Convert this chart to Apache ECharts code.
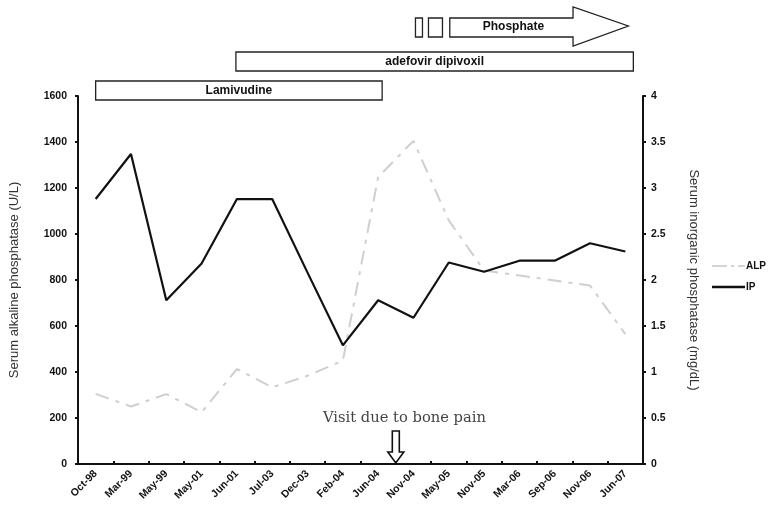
<!DOCTYPE html>
<html><head><meta charset="utf-8">
<script src="https://cdn.jsdelivr.net/npm/echarts@6/dist/echarts.min.js"></script>
<style>html,body{margin:0;padding:0;background:#fff}#c{width:770px;height:518px}</style>
</head><body><div id="c"></div>
<script>
var categories = ['Oct-98','Mar-99','May-99','May-01','Jun-01','Jul-03','Dec-03','Feb-04','Jun-04','Nov-04','May-05','Nov-05','Mar-06','Sep-06','Nov-06','Jun-07'];
var alpValues = [305, 250, 304, 225, 413, 333, 384, 449, 1248, 1405, 1059, 841, 820, 798, 776, 565];
var ipValues = [2.88, 3.37, 1.78, 2.18, 2.88, 2.88, 2.08, 1.29, 1.78, 1.59, 2.19, 2.09, 2.21, 2.21, 2.40, 2.31];
var leftTicks = {min: 0, max: 1600, interval: 200};
var rightTicks = {min: 0, max: 4, interval: 0.5};

var chart = echarts.init(document.getElementById('c'), null, {renderer: 'canvas'});
var tickFont = {fontFamily: 'Liberation Sans, Arial, sans-serif', fontWeight: 'bold', fontSize: 10.5, color: '#111'};
var option = {
  animation: false,
  backgroundColor: '#fff',
  grid: {left: 75, right: 127, top: 96, bottom: 54, containLabel: false},
  legend: {
    orient: 'vertical', left: 707, top: 256, itemWidth: 33, itemHeight: 10, itemGap: 11,
    textStyle: {fontFamily: 'Liberation Sans, Arial, sans-serif', fontWeight: 'bold', fontSize: 10, color: '#111', padding: [0,0,0,-4]},
    data: [
      {name: 'ALP', icon: 'path://M0,4 L15,4 L15,6 L0,6 Z M19,4 L22,4 L22,6 L19,6 Z M26,4 L33,4 L33,6 L26,6 Z', itemStyle: {color: '#d4d4d4'}},
      {name: 'IP', icon: 'path://M0,4 L33,4 L33,6.5 L0,6.5 Z', itemStyle: {color: '#111'}}
    ]
  },
  xAxis: {
    type: 'category', data: categories, boundaryGap: true,
    axisLine: {lineStyle: {color: '#111', width: 2}},
    axisTick: {show: true, inside: true, length: 3, lineStyle: {color: '#111', width: 2}},
    axisLabel: Object.assign({rotate: 45, interval: 0, margin: 8}, tickFont)
  },
  yAxis: [
    {
      type: 'value', min: leftTicks.min, max: leftTicks.max, interval: leftTicks.interval, position: 'left',
      name: 'Serum alkaline phosphatase (U/L)', nameLocation: 'middle', nameGap: 57, nameRotate: 90,
      nameTextStyle: {fontFamily: 'Liberation Sans, Arial, sans-serif', fontSize: 13, color: '#333'},
      axisLine: {show: true, lineStyle: {color: '#111', width: 2}},
      axisTick: {show: true, length: 3, lineStyle: {color: '#111', width: 2}},
      axisLabel: Object.assign({margin: 11, formatter: function (v) { return String(v); }}, tickFont),
      splitLine: {show: false}
    },
    {
      type: 'value', min: rightTicks.min, max: rightTicks.max, interval: rightTicks.interval, position: 'right',
      name: 'Serum inorganic phosphatase (mg/dL)', nameLocation: 'middle', nameGap: 44, nameRotate: -90,
      nameTextStyle: {fontFamily: 'Liberation Sans, Arial, sans-serif', fontSize: 13, color: '#333'},
      axisLine: {show: true, lineStyle: {color: '#111', width: 2}},
      axisTick: {show: true, length: 3, lineStyle: {color: '#111', width: 2}},
      axisLabel: Object.assign({margin: 8}, tickFont),
      splitLine: {show: false}
    }
  ],
  series: [
    {name: 'ALP', type: 'line', yAxisIndex: 0, data: alpValues, showSymbol: false, symbol: 'none',
     lineStyle: {color: '#cfcfcf', width: 2, type: [14, 7, 4, 7]}, itemStyle: {color: '#cfcfcf'}, z: 2},
    {name: 'IP', type: 'line', yAxisIndex: 1, data: ipValues, showSymbol: false, symbol: 'none',
     lineStyle: {color: '#111', width: 2.2}, itemStyle: {color: '#111'}, z: 3}
  ]
};
chart.setOption(option);

function px(idx) { return chart.convertToPixel({xAxisIndex: 0}, idx); }
var half = (px(1) - px(0)) / 2;
var boxStyle = {fill: '#fff', stroke: '#222', lineWidth: 1.3};
var lblFont = 'bold 12px "Liberation Sans", Arial, sans-serif';
var lamX0 = px(0), lamX1 = px(8) + 4;
var adeX0 = px(4) - 1, adeX1 = px(15) + 8;
var phX0 = px(10) + 1, phBodyEnd = px(14) - 17, phTip = px(15) + 3;
var visitX = px(9) - half;
var g = [
  {type: 'rect', shape: {x: lamX0, y: 81, width: lamX1 - lamX0, height: 19}, style: boxStyle},
  {type: 'text', x: (lamX0 + lamX1) / 2, y: 90.5, style: {text: 'Lamivudine', font: lblFont, fill: '#111', align: 'center', verticalAlign: 'middle'}},
  {type: 'rect', shape: {x: adeX0, y: 52, width: adeX1 - adeX0, height: 19}, style: boxStyle},
  {type: 'text', x: (adeX0 + adeX1) / 2, y: 61.5, style: {text: 'adefovir dipivoxil', font: lblFont, fill: '#111', align: 'center', verticalAlign: 'middle'}},
  {type: 'rect', shape: {x: px(9) + 2, y: 18, width: 7, height: 19}, style: boxStyle},
  {type: 'rect', shape: {x: px(9) + 15, y: 18, width: 14, height: 19}, style: boxStyle},
  {type: 'polygon', shape: {points: [[phX0, 18], [phBodyEnd, 18], [phBodyEnd, 7], [phTip, 26], [phBodyEnd, 46], [phBodyEnd, 37], [phX0, 37]]}, style: boxStyle},
  {type: 'text', x: (phX0 + phBodyEnd) / 2 + 2, y: 27, style: {text: 'Phosphate', font: lblFont, fill: '#111', align: 'center', verticalAlign: 'middle'}},
  {type: 'text', x: 323, y: 418, style: {text: 'Visit due to bone pain', font: '14.7px "DejaVu Serif", "Liberation Serif", serif', fill: '#444', align: 'left', verticalAlign: 'middle'}},
  {type: 'polygon', shape: {points: [[visitX - 3.5, 431], [visitX + 3.5, 431], [visitX + 3.5, 452], [visitX + 8, 452], [visitX, 463], [visitX - 8, 452], [visitX - 3.5, 452]]}, style: {fill: '#fff', stroke: '#111', lineWidth: 1.6}}
];
chart.setOption({graphic: g});
</script>
</body></html>
